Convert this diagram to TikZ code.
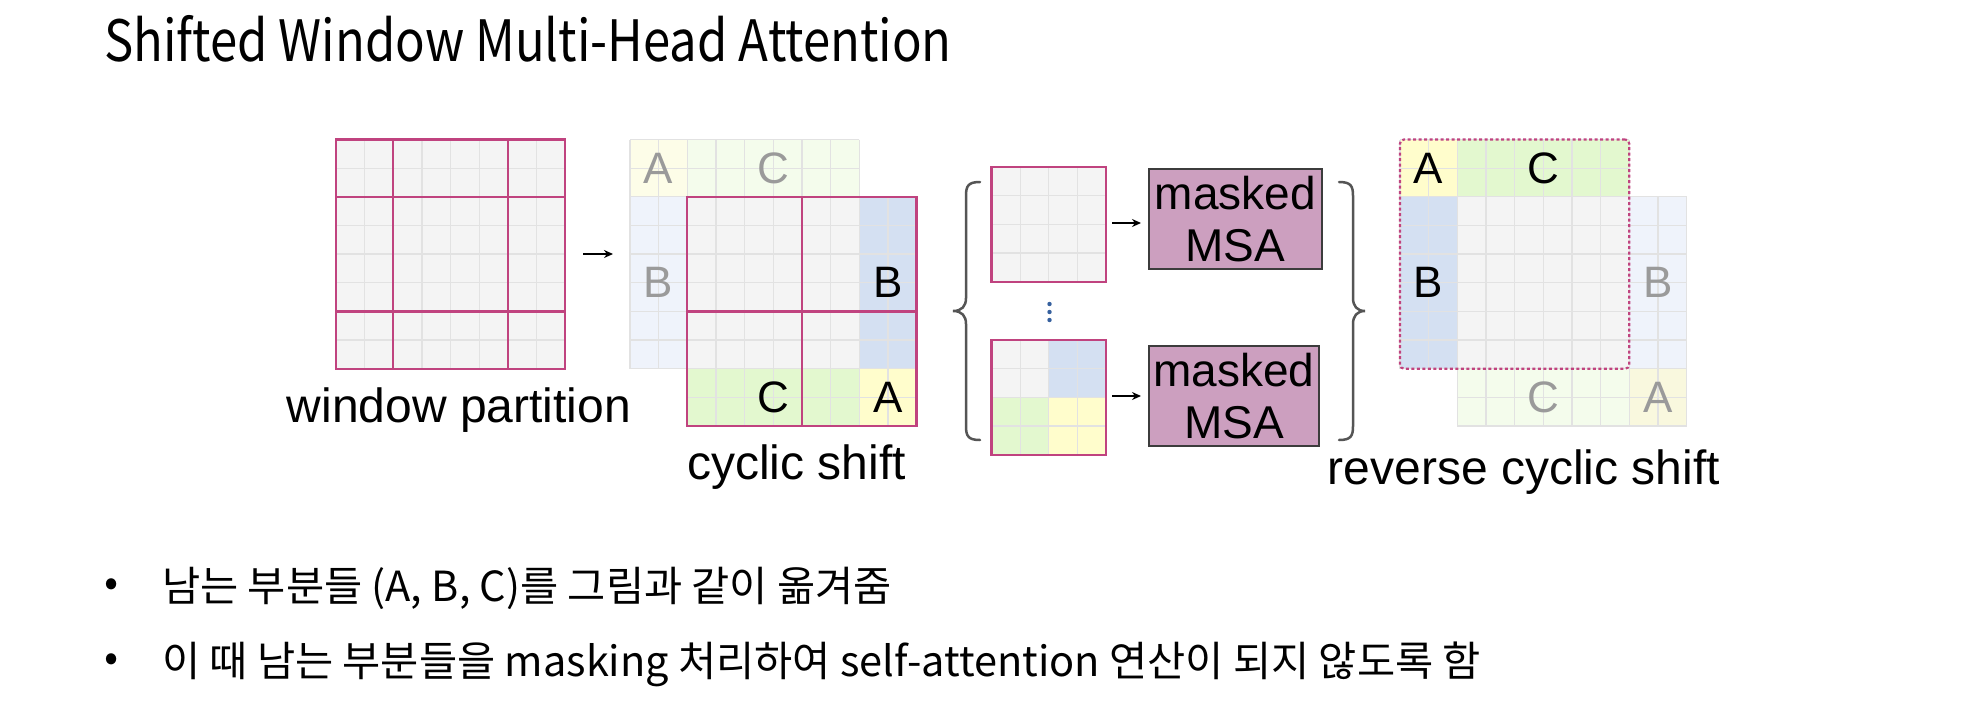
\documentclass[tikz,border=0pt]{standalone}
\usepackage{fontspec}
\setmainfont{Liberation Sans}
\newfontfamily\kr{Noto Sans CJK KR}
\newfontfamily\krt[FakeStretch=0.86]{Noto Sans CJK KR}
\usetikzlibrary{arrows.meta}
\definecolor{gridc}{HTML}{E2E2E2}
\definecolor{cellgray}{HTML}{F4F4F4}
\definecolor{mag}{HTML}{C0437F}
\definecolor{bluS}{HTML}{D4E0F2}
\definecolor{grnS}{HTML}{E3F8CF}
\definecolor{yelS}{HTML}{FFFDCC}
\definecolor{bluF}{HTML}{EFF3FB}
\definecolor{grnF}{HTML}{F4FCEC}
\definecolor{yelF}{HTML}{FDFDE8}
\definecolor{yelF2}{HTML}{F9F8DE}
\definecolor{fadec}{HTML}{9A9A9A}
\definecolor{msafill}{HTML}{CC9FBF}
\definecolor{msaborder}{HTML}{3C3C3C}
\definecolor{bracec}{HTML}{555555}
\definecolor{dotc}{HTML}{36609E}
\def\cw{28.65}
\newcommand\region[5]{%
  \pgfmathsetmacro\rgx{#1}\pgfmathsetmacro\rgy{#2}%
  \pgfmathsetmacro\rgX{\rgx+#3*\cw}\pgfmathsetmacro\rgY{\rgy+#4*\cw}%
  \fill[#5] (\rgx,\rgy) rectangle (\rgX,\rgY);
  \foreach \i in {0,...,#3} {\draw[gl] ({\rgx+\i*\cw},\rgy) -- ({\rgx+\i*\cw},\rgY);}
  \foreach \j in {0,...,#4} {\draw[gl] (\rgx,{\rgy+\j*\cw}) -- (\rgX,{\rgy+\j*\cw});}
}
\tikzset{
  gl/.style={draw=gridc, line width=1.3pt},
  winline/.style={draw=mag, line width=2.2pt},
  winbox/.style={draw=mag, line width=2.2pt, inner sep=0, outer sep=0},
  lab/.style={font=\fontsize{44}{44}\selectfont, inner sep=0},
  fadelab/.style={lab, text=fadec},
  msa/.style={draw=msaborder, fill=msafill, line width=2pt, minimum height=100pt, align=center, font=\fontsize{46}{52}\selectfont, inner sep=0},
  capt/.style={font=\fontsize{48}{48}\selectfont, anchor=base, inner sep=0},
  arr/.style={-{Stealth[length=9pt,width=8pt]}, line width=1.6pt, black},
  brace/.style={draw=bracec, line width=2.5pt, line cap=round},
  krtext/.style={font=\kr\fontsize{41.5}{41.5}\selectfont, anchor=base west, inner sep=0},
}
\begin{document}
\begin{tikzpicture}[x=1pt,y=-1pt]
\useasboundingbox (0,0) rectangle (1988,718);
\fill[white] (0,0) rectangle (1988,718);
% title
\node[font=\krt\fontsize{57}{57}\selectfont, anchor=base west, inner sep=0] (title) at (104,61) {Shifted Window Multi-Head Attention};

% ---------- window partition ----------
\region{336}{139.5}{8}{8}{cellgray}
\node[winbox, minimum size={8*\cw}] (wp) at ({336+4*\cw},{139.5+4*\cw}) {};
\draw[winline] ({336+2*\cw},139.5) -- ({336+2*\cw},{139.5+8*\cw});
\draw[winline] ({336+6*\cw},139.5) -- ({336+6*\cw},{139.5+8*\cw});
\draw[winline] (336,{139.5+2*\cw}) -- ({336+8*\cw},{139.5+2*\cw});
\draw[winline] (336,{139.5+6*\cw}) -- ({336+8*\cw},{139.5+6*\cw});
\node[capt] (wpcap) at (459,422) {window partition};

\coordinate (a1s) at (583,254);
\coordinate (a1e) at (613,254);
\draw[arr] (a1s) -- (a1e);

% ---------- cyclic shift ----------
\region{630}{139.5}{2}{2}{yelF}
\region{687.3}{139.5}{6}{2}{grnF}
\region{630}{196.8}{2}{6}{bluF}
\node[fadelab] (fA) at (658.6,168) {A};
\node[fadelab] (fC) at (773,168) {C};
\node[fadelab] (fB) at (658.6,282.8) {B};
\region{687.3}{196.8}{6}{6}{cellgray}
\region{687.3+6*\cw}{196.8}{2}{6}{bluS}
\region{687.3}{196.8+6*\cw}{6}{2}{grnS}
\region{687.3+6*\cw}{196.8+6*\cw}{2}{2}{yelS}
\node[winbox, minimum size={8*\cw}] (cs) at ({687.3+4*\cw},{196.8+4*\cw}) {};
\draw[winline] ({687.3+4*\cw},196.8) -- ({687.3+4*\cw},{196.8+8*\cw});
\draw[winline] (687.3,{196.8+4*\cw}) -- ({687.3+8*\cw},{196.8+4*\cw});
\node[lab] (sB) at ({687.3+7*\cw},{196.8+3*\cw}) {B};
\node[lab] (sC) at ({687.3+3*\cw},{196.8+7*\cw}) {C};
\node[lab] (sA) at ({687.3+7*\cw},{196.8+7*\cw}) {A};
\node[capt] (cscap) at (796.5,479) {cyclic shift};

% ---------- left brace ----------
\draw[brace] (980,182) .. controls (968,182) and (966,186) .. (966,196) -- (966,298)
  .. controls (966,306) and (962,311) .. (953,311)
  .. controls (962,311) and (966,316) .. (966,324) -- (966,426)
  .. controls (966,436) and (968,440) .. (980,440);

% ---------- small windows ----------
\region{991.5}{167}{4}{4}{cellgray}
\node[winbox, minimum size={4*\cw}] (w1) at ({991.5+2*\cw},{167+2*\cw}) {};
\region{991.5}{340}{2}{2}{cellgray}
\region{991.5+2*\cw}{340}{2}{2}{bluS}
\region{991.5}{340+2*\cw}{2}{2}{grnS}
\region{991.5+2*\cw}{340+2*\cw}{2}{2}{yelS}
\node[winbox, minimum size={4*\cw}] (w2) at ({991.5+2*\cw},{340+2*\cw}) {};
\foreach \yy in {304,312,320} \fill[dotc] (1049.5,\yy) circle (2.2);

% ---------- masked MSA ----------
\node[msa, minimum width=173pt] (m1) at (1235.5,219) {masked\\MSA};
\node[msa, minimum width=170pt] (m2) at (1234,396) {masked\\MSA};
\coordinate (b1s) at (1112,223);
\coordinate (b1e) at (1141,223);
\coordinate (b2s) at (1112,396);
\coordinate (b2e) at (1141,396);
\draw[arr] (b1s) -- (b1e);
\draw[arr] (b2s) -- (b2e);

% ---------- right brace ----------
\draw[brace] (1339,182) .. controls (1351,182) and (1353,186) .. (1353,196) -- (1353,298)
  .. controls (1353,306) and (1357,311) .. (1365,311)
  .. controls (1357,311) and (1353,316) .. (1353,324) -- (1353,426)
  .. controls (1353,436) and (1351,440) .. (1339,440);

% ---------- reverse cyclic shift ----------
\region{1400+8*\cw}{139.5+2*\cw}{2}{6}{bluF}
\region{1400+2*\cw}{139.5+8*\cw}{6}{2}{grnF}
\region{1400+8*\cw}{139.5+8*\cw}{2}{2}{yelF2}
\node[fadelab] (rfB) at ({1400+9*\cw},{139.5+5*\cw}) {B};
\node[fadelab] (rfC) at ({1400+5*\cw},{139.5+9*\cw}) {C};
\node[fadelab] (rfA) at ({1400+9*\cw},{139.5+9*\cw}) {A};
\region{1400}{139.5}{2}{2}{yelS}
\region{1400+2*\cw}{139.5}{6}{2}{grnS}
\region{1400}{139.5+2*\cw}{2}{6}{bluS}
\region{1400+2*\cw}{139.5+2*\cw}{6}{6}{cellgray}
\node[draw=mag, line width=2.2pt, dash pattern=on 3pt off 2.5pt, rounded corners=4pt, inner sep=0, minimum size={8*\cw}] (rcs) at ({1400+4*\cw},{139.5+4*\cw}) {};
\node[lab] (rA) at ({1400+\cw},{139.5+\cw}) {A};
\node[lab] (rC) at ({1400+5*\cw},{139.5+\cw}) {C};
\node[lab] (rB) at ({1400+\cw},{139.5+5*\cw}) {B};
\node[capt] (rcap) at (1524,484) {reverse cyclic shift};

% ---------- bullets ----------
\node[font=\kr\fontsize{41.5}{41.5}\selectfont, inner sep=0] (bul1) at (112,588) {•};
\node[font=\kr\fontsize{41.5}{41.5}\selectfont, inner sep=0] (bul2) at (112,663) {•};
\node[krtext] (t1) at (162,601) {남는 부분들 (A, B, C)를 그림과 같이 옮겨줌};
\node[krtext] (t2) at (162,676) {이 때 남는 부분들을 masking 처리하여 self-attention 연산이 되지 않도록 함};
\end{tikzpicture}
\end{document}
